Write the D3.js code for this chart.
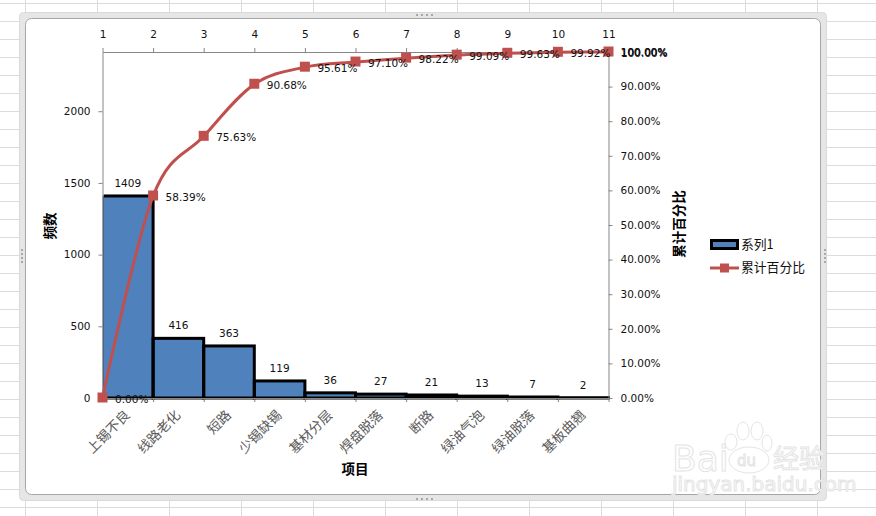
<!DOCTYPE html>
<html>
<head>
<meta charset="utf-8">
<script src="https://cdn.jsdelivr.net/npm/d3@7"></script>
<style>
html, body { margin: 0; padding: 0; background: #fff; }
svg { display: block; }
text { font-family: "DejaVu Sans", sans-serif; font-size: 10.5px; fill: #111; }
.cjk { font-family: "Noto Sans CJK SC", sans-serif; }
.wm { fill: #fff; stroke: #e4e4e4; stroke-width: 1; }
</style>
</head>
<body>
<svg id="chart" width="876" height="516"></svg>
<script>
// chart data
var categories = ["上锡不良", "线路老化", "短路", "少锡缺锡", "基材分层", "焊盘脱落", "断路", "绿油气泡", "绿油脱落", "基板曲翘"];
var counts = [1409, 416, 363, 119, 36, 27, 21, 13, 7, 2];
var cumulative = [0, 58.39, 75.63, 90.68, 95.61, 97.10, 98.22, 99.09, 99.63, 99.92, 100];
var positions = [1, 2, 3, 4, 5, 6, 7, 8, 9, 10, 11];
var countTicks = [0, 500, 1000, 1500, 2000];
var percentTicks = [0, 10, 20, 30, 40, 50, 60, 70, 80, 90, 100];
var countMax = 2413;

var svg = d3.select("#chart");
var plotLeft = 102.5, plotRight = 608.5, plotTop = 52, plotBottom = 398;
var axisColor = "#868686";

// the spreadsheet behind the chart
var sheet = svg.append("g").attr("stroke", "#dcdcdc").attr("stroke-width", 1);
d3.range(25.5, 876, 72).forEach(function(x) {
  sheet.append("line").attr("x1", x).attr("x2", x).attr("y1", 0).attr("y2", 516);
});
d3.range(3.5, 516, 18).forEach(function(y) {
  sheet.append("line").attr("x1", 0).attr("x2", 876).attr("y1", y).attr("y2", y);
});

// chart frame
svg.append("rect").attr("x", 19.5).attr("y", 12.5).attr("width", 807).attr("height", 488).attr("rx", 4)
  .attr("fill", "#e6e6e6").attr("stroke", "#dadada");
svg.append("rect").attr("x", 25.5).attr("y", 18.5).attr("width", 795).attr("height", 476).attr("rx", 6)
  .attr("fill", "#fff").attr("stroke", "#a6a6a6");

// little resize handles on the frame
var handles = svg.append("g").attr("fill", "#a8a8a8");
d3.range(0, 4).forEach(function(i) {
  [[416 + i * 5, 14], [416 + i * 5, 498]].forEach(function(p) {
    handles.append("rect").attr("x", p[0]).attr("y", p[1]).attr("width", 2).attr("height", 2);
  });
  [[21, 249 + i * 4], [824, 249 + i * 4]].forEach(function(p) {
    handles.append("rect").attr("x", p[0]).attr("y", p[1]).attr("width", 2).attr("height", 2);
  });
});

// scales
var xBand = d3.scaleBand().domain(categories).range([plotLeft, plotRight]);
var xPoint = d3.scalePoint().domain(positions).range([plotLeft, plotRight]);
var yCount = d3.scaleLinear().domain([0, countMax]).range([plotBottom, plotTop]);
var yPercent = d3.scaleLinear().domain([0, 100]).range([plotBottom, plotTop]);

// bars: fill first, then the outline clipped so the first bar has no black on the axis side
svg.append("clipPath").attr("id", "barClip").append("rect")
  .attr("x", plotLeft + 1).attr("y", 0).attr("width", 600).attr("height", plotBottom + 2);
svg.append("g").selectAll("rect").data(counts).enter().append("rect")
  .attr("x", function(d, i) { return xBand(categories[i]); })
  .attr("y", function(d) { return yCount(d); })
  .attr("width", xBand.bandwidth())
  .attr("height", function(d) { return plotBottom - yCount(d); })
  .attr("fill", "#4f81bd");
svg.append("g").attr("clip-path", "url(#barClip)").selectAll("rect").data(counts).enter().append("rect")
  .attr("x", function(d, i) { return xBand(categories[i]); })
  .attr("y", function(d) { return yCount(d); })
  .attr("width", xBand.bandwidth())
  .attr("height", function(d) { return plotBottom - yCount(d); })
  .attr("fill", "none")
  .attr("stroke", "#000")
  .attr("stroke-width", 3);

// axes
function styleAxis(g) {
  g.selectAll("path, line").attr("stroke", axisColor).attr("stroke-width", 1);
  g.selectAll("text").attr("fill", "#111").style("font-size", "10.5px");
}
svg.append("g").attr("transform", "translate(" + plotLeft + ",0)")
  .call(d3.axisLeft(yCount).tickValues(countTicks).tickSizeInner(4).tickSizeOuter(0).tickPadding(8)
    .tickFormat(d3.format("d")))
  .call(styleAxis);
svg.append("g").attr("transform", "translate(" + plotRight + ",0)")
  .call(d3.axisRight(yPercent).tickValues(percentTicks).tickSizeInner(4).tickSizeOuter(0).tickPadding(8)
    .tickFormat(function(d) { return d.toFixed(2) + "%"; }))
  .call(styleAxis);
// a second 100.00% sits on the first in the reference, which makes it look bold
svg.append("text").attr("x", plotRight + 12.3).attr("y", yPercent(100) + 0.5).attr("dy", "0.32em")
  .text(d3.max(percentTicks).toFixed(2) + "%");
svg.append("g").attr("transform", "translate(0," + plotTop + ")")
  .call(d3.axisTop(xPoint).tickSizeInner(4).tickSizeOuter(0).tickPadding(10))
  .call(styleAxis);
svg.append("g").attr("transform", "translate(0," + plotBottom + ")")
  .call(d3.axisBottom(xPoint).tickSizeInner(4).tickSizeOuter(0).tickFormat(""))
  .call(styleAxis);

// rotated category labels
svg.append("g").selectAll("text").data(categories).enter().append("text")
  .attr("class", "cjk")
  .attr("text-anchor", "end")
  .attr("transform", function(d) {
    return "translate(" + (xBand(d) + xBand.bandwidth() / 2 + 3) + ",416) rotate(-45)";
  })
  .style("font-size", "13.5px")
  .style("fill", "#5a5a5a")
  .text(function(d) { return d; });

// bar value labels
svg.append("g").selectAll("text").data(counts).enter().append("text")
  .attr("x", function(d, i) { return xBand(categories[i]) + xBand.bandwidth() / 2; })
  .attr("y", function(d) { return yCount(d) - 9; })
  .attr("text-anchor", "middle")
  .text(function(d) { return d; });

// cumulative line
var line = d3.line()
  .x(function(d, i) { return xPoint(positions[i]); })
  .y(function(d) { return yPercent(d); })
  .curve(d3.curveCatmullRom.alpha(0));
svg.append("path").datum(cumulative)
  .attr("d", line)
  .attr("fill", "none")
  .attr("stroke", "#c0504d")
  .attr("stroke-width", 3);
svg.append("g").selectAll("rect").data(cumulative).enter().append("rect")
  .attr("x", function(d, i) { return xPoint(positions[i]) - 5; })
  .attr("y", function(d) { return yPercent(d) - 5.5; })
  .attr("width", 10).attr("height", 10)
  .attr("fill", "#c0504d");

// cumulative labels
svg.append("g").selectAll("text").data(cumulative).enter().append("text")
  .attr("x", function(d, i) { return xPoint(positions[i]) + 12.5; })
  .attr("y", function(d) { return yPercent(d) + 5; })
  .text(function(d) { return d.toFixed(2) + "%"; });

// axis titles
function title(txt, x, y, rot) {
  svg.append("text").attr("class", "cjk")
    .attr("text-anchor", "middle")
    .attr("transform", "translate(" + x + "," + y + ") rotate(" + rot + ")")
    .style("font-size", "13.5px").style("font-weight", "bold").style("fill", "#000")
    .text(txt);
}
title("频数", 55, 226, -90);
title("累计百分比", 684, 224, -90);
title("项目", 355, 474, 0);

// legend
svg.append("rect").attr("x", 711.5).attr("y", 240.5).attr("width", 26).attr("height", 8)
  .attr("fill", "#4f81bd").attr("stroke", "#000").attr("stroke-width", 3);
svg.append("line").attr("x1", 710).attr("x2", 739).attr("y1", 268).attr("y2", 268)
  .attr("stroke", "#c0504d").attr("stroke-width", 3);
svg.append("rect").attr("x", 720).attr("y", 263.5).attr("width", 9).attr("height", 9).attr("fill", "#c0504d");
svg.append("text").attr("class", "cjk").attr("x", 741).attr("y", 249).style("font-size", "12.8px").text("系列1");
svg.append("text").attr("class", "cjk").attr("x", 741).attr("y", 272).style("font-size", "12.8px").text("累计百分比");

// watermark
var wm = svg.append("g");
wm.append("text").attr("class", "wm").attr("x", 672).attr("y", 471)
  .style("font-size", "36px").text("Bai");
[[743, 431, 6, 9], [757, 431, 6, 9], [731, 442, 6, 8], [767, 443, 5, 8], [749, 460, 20, 13]].forEach(function(p) {
  wm.append("ellipse").attr("class", "wm").attr("cx", p[0]).attr("cy", p[1]).attr("rx", p[2]).attr("ry", p[3]);
});
wm.append("text").attr("class", "wm").attr("x", 737).attr("y", 466).style("font-size", "15px").text("du");
wm.append("text").attr("class", "cjk wm").attr("x", 773).attr("y", 468)
  .style("font-size", "26px").text("经验");
wm.append("text").attr("class", "wm").attr("x", 672).attr("y", 491)
  .style("font-size", "20px").text("jingyan.baidu.com");
</script>
</body>
</html>
